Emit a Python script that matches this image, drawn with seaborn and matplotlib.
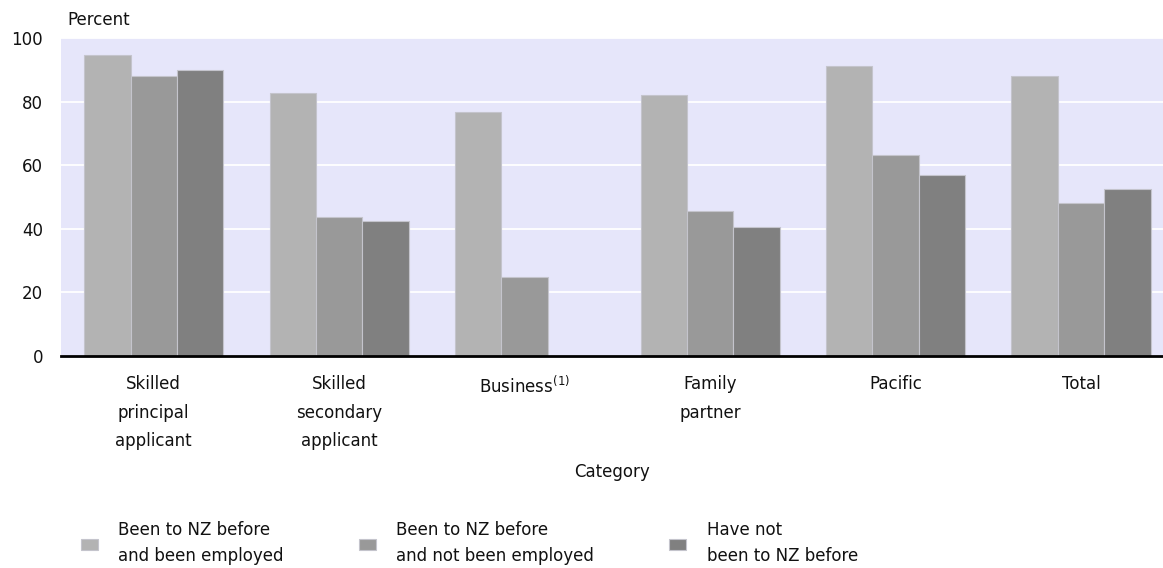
import numpy as np
import pandas as pd
import matplotlib
matplotlib.use("Agg")
import matplotlib.pyplot as plt
import seaborn as sns

# Category labels (x axis) and the three groups in the legend
categories = [
    "Skilled\nprincipal\napplicant",
    "Skilled\nsecondary\napplicant",
    "Business$^{(1)}$",
    "Family\npartner",
    "Pacific",
    "Total",
]
series = [
    "Been to NZ before\nand been employed",
    "Been to NZ before\nand not been employed",
    "Have not\nbeen to NZ before",
]

# Percent values
employed = [94.8, 82.8, 76.6, 82.2, 91.1, 87.9]
not_employed = [87.9, 43.6, 24.7, 45.6, 63.3, 48.2]
never_been = [89.8, 42.4, np.nan, 40.7, 57.0, 52.5]

colors = ["#b3b3b3", "#999999", "#808080"]
y_ticks = [0, 20, 40, 60, 80, 100]

# long-format table for seaborn
rows = []
for vals, name in zip([employed, not_employed, never_been], series):
    for cat, v in zip(categories, vals):
        rows.append({"category": cat, "group": name, "percent": v})
df = pd.DataFrame(rows)

sns.set_style("white")
plt.rcParams["font.family"] = ["DejaVu Sans"]

W, H = 1163, 568
fig = plt.figure(figsize=(W / 100, H / 100), dpi=100)
ax = fig.add_axes([61 / W, 1 - 356 / H, 1 - 61 / W, (356 - 38) / H])
ax.set_facecolor("#e6e6fa")

sns.barplot(
    data=df, x="category", y="percent", hue="group",
    order=categories, hue_order=series, palette=colors,
    width=0.75, errorbar=None, edgecolor="#c4c4cc", linewidth=0.8,
    saturation=1, ax=ax,
)

ax.set_xlim(-0.5, 5.442)
ax.set_ylim(0, 100)
ax.set_yticks(y_ticks)
ax.set_axisbelow(True)
ax.yaxis.grid(True, color="white", linewidth=1.3)
ax.xaxis.grid(False)

for side in ["top", "right", "left"]:
    ax.spines[side].set_visible(False)
ax.spines["bottom"].set_color("black")
ax.spines["bottom"].set_linewidth(2)

ax.tick_params(axis="y", length=0, pad=13, labelsize=12, labelcolor="#111111")
ax.tick_params(axis="x", length=0, pad=14, labelsize=12, labelcolor="#111111")
for lbl in ax.get_xticklabels():
    lbl.set_linespacing(1.75)

ax.set_xlabel("")
ax.set_ylabel("")
fig.text(67 / W, 1 - 20 / H, "Percent", fontsize=12, va="center", ha="left", color="#111111")
fig.text((61 + W) / 2 / W, 1 - 472 / H, "Category", fontsize=12, va="center", ha="center", color="#111111")

handles, labels = ax.get_legend_handles_labels()
ax.get_legend().remove()
leg = fig.legend(
    handles, labels, ncol=3, loc="upper left",
    bbox_to_anchor=(66 / W, 1 - 506 / H), frameon=False, fontsize=12,
    handlelength=1.0, handleheight=0.7, handletextpad=1.25, columnspacing=4.5,
    labelspacing=0.3,
)
for t in leg.get_texts():
    t.set_linespacing(1.6)
    t.set_color("#111111")

fig.savefig("out.png", dpi=100)
